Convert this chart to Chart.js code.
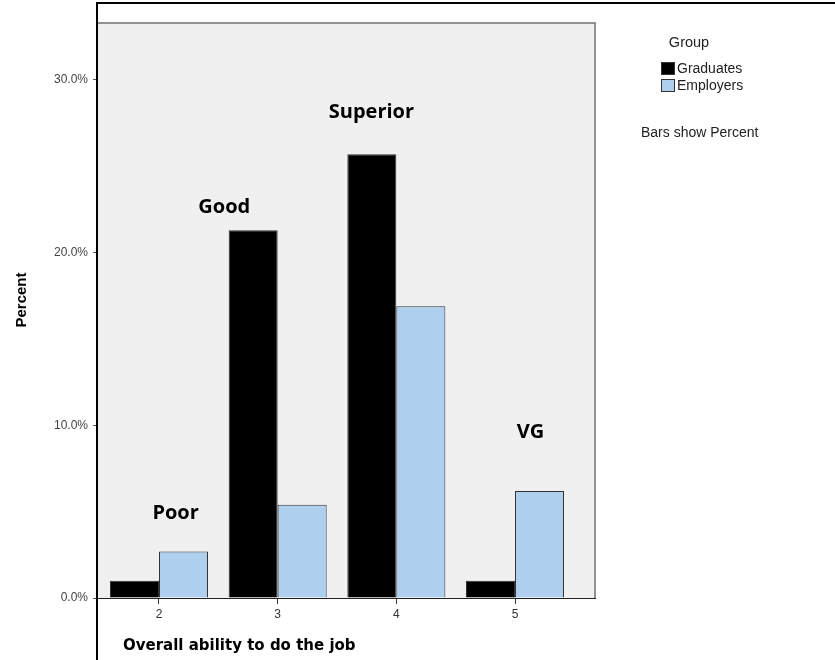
<!DOCTYPE html>
<html>
<head>
<meta charset="utf-8">
<script src="https://cdn.jsdelivr.net/npm/chart.js@4.4.0/dist/chart.umd.min.js"></script>
<style>
  html, body { margin: 0; padding: 0; background: #fff; }
  #chart { display: block; }
</style>
</head>
<body>
<canvas id="chart" width="835" height="660"></canvas>
<script>
// Overall ability to do the job, percent per group
const categories = [2, 3, 4, 5];
const graduates = [1.0, 21.3, 25.7, 1.0];
const employers = [2.7, 5.4, 16.9, 6.2];
const yTicks = [0, 10, 20, 30];
const seriesNames = ['Graduates', 'Employers'];

// text written over the bars, anchored in axis units
const barLabels = ['Poor', 'Good', 'Superior', 'VG'];
const barLabelX = [2.14, 2.55, 3.79, 5.13];
const barLabelY = [4.9, 22.6, 28.1, 9.6];

const colors = ['#000000', '#aecfee'];

/**
 * Plot background, frame, legend and free text
 */
const decorations = {
    id: 'decorations',
    beforeDraw(chart) {
        const { ctx, chartArea: a } = chart;
        ctx.save();
        ctx.fillStyle = '#f0f0f0';
        ctx.fillRect(a.left, a.top, a.right - a.left, a.bottom - a.top);
        ctx.restore();
    },
    afterDraw(chart) {
        const { ctx, chartArea: a, scales: { x, y } } = chart;
        ctx.save();

        // top and right edge of the plot
        ctx.strokeStyle = '#707070';
        ctx.lineWidth = 1.5;
        ctx.beginPath();
        ctx.moveTo(a.left, a.top);
        ctx.lineTo(a.right, a.top);
        ctx.lineTo(a.right, a.bottom);
        ctx.stroke();

        // black frame round the picture (left line doubles as y axis)
        ctx.strokeStyle = '#000';
        ctx.lineWidth = 2;
        ctx.beginPath();
        ctx.moveTo(97, 660);
        ctx.lineTo(97, 3);
        ctx.lineTo(835, 3);
        ctx.stroke();

        // labels over the bars
        ctx.fillStyle = '#000';
        ctx.font = 'bold 20px "Open Sans", sans-serif';
        ctx.textAlign = 'center';
        ctx.textBaseline = 'middle';
        barLabels.forEach(function(t, i) {
            ctx.fillText(t, x.getPixelForValue(barLabelX[i]), y.getPixelForValue(barLabelY[i]));
        });

        // axis titles
        ctx.textAlign = 'left';
        ctx.font = 'bold 15px "DejaVu Sans", sans-serif';
        ctx.fillText('Overall ability to do the job', 123, 646);

        ctx.save();
        ctx.translate(22, 300);
        ctx.rotate(-Math.PI / 2);
        ctx.textAlign = 'center';
        ctx.font = 'bold 15px "Liberation Sans", Arial, sans-serif';
        ctx.fillText('Percent', 0, 0);
        ctx.restore();

        // legend
        ctx.fillStyle = '#222';
        ctx.font = '14.5px "Liberation Sans", Arial, sans-serif';
        ctx.textAlign = 'center';
        ctx.fillText('Group', 689, 43);
        ctx.textAlign = 'left';
        ctx.font = '14px "Liberation Sans", Arial, sans-serif';
        seriesNames.forEach(function(name, i) {
            const top = 62 + i * 17;
            ctx.fillStyle = colors[i];
            ctx.fillRect(661, top, 14, 13);
            ctx.strokeStyle = '#333';
            ctx.lineWidth = 1;
            ctx.strokeRect(661.5, top + 0.5, 13, 12);
            ctx.fillStyle = '#222';
            ctx.fillText(name, 677, top + 7);
        });
        ctx.fillText('Bars show Percent', 641, 133);

        ctx.restore();
    }
};

new Chart(document.getElementById('chart'), {
    type: 'bar',
    data: {
        datasets: [
            {
                label: seriesNames[0],
                data: categories.map((c, i) => ({ x: c, y: graduates[i] })),
                backgroundColor: colors[0],
                borderColor: '#333',
                borderWidth: 1
            },
            {
                label: seriesNames[1],
                data: categories.map((c, i) => ({ x: c, y: employers[i] })),
                backgroundColor: colors[1],
                borderColor: '#333',
                borderWidth: 1
            }
        ]
    },
    options: {
        responsive: false,
        animation: false,
        categoryPercentage: 0.826,
        barPercentage: 1,
        layout: { padding: { top: 23, right: 240, left: 0, bottom: 0 } },
        plugins: {
            legend: { display: false },
            tooltip: { enabled: false }
        },
        scales: {
            x: {
                type: 'linear',
                min: 1.486,
                max: 5.674,
                offset: false,
                afterBuildTicks: function(scale) {
                    scale.ticks = categories.map(v => ({ value: v }));
                },
                afterFit: function(scale) { scale.height = 62; },
                grid: {
                    offset: false,
                    drawOnChartArea: false,
                    drawTicks: true,
                    tickLength: 6,
                    color: '#333'
                },
                border: { display: true, color: '#222', width: 1 },
                ticks: {
                    padding: 3,
                    color: '#333',
                    font: { family: '"Liberation Sans", Arial, sans-serif', size: 12 }
                }
            },
            y: {
                min: 0,
                max: 33.3,
                afterBuildTicks: function(scale) {
                    scale.ticks = yTicks.map(v => ({ value: v }));
                },
                afterFit: function(scale) { scale.width = 98; },
                grid: {
                    drawOnChartArea: false,
                    drawTicks: true,
                    tickLength: 5,
                    color: '#555'
                },
                border: { display: false },
                ticks: {
                    padding: 5,
                    color: '#444',
                    font: { family: '"Liberation Sans", Arial, sans-serif', size: 12 },
                    callback: function(value) {
                        return value.toFixed(1) + '%';
                    }
                }
            }
        }
    },
    plugins: [decorations]
});
</script>
</body>
</html>
